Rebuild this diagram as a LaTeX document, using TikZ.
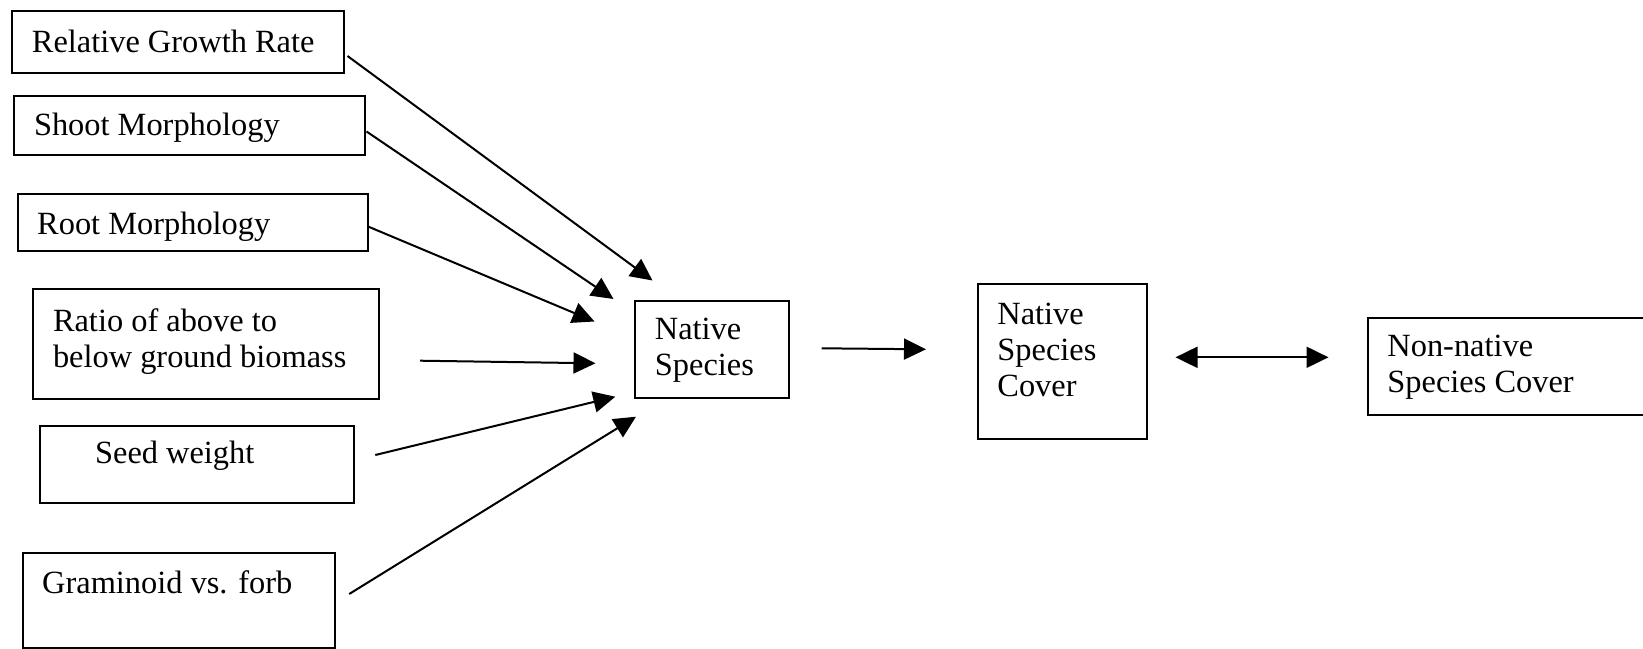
\documentclass[tikz,border=0pt]{standalone}
\usepackage{fontspec}
\setmainfont{Liberation Serif}
\usetikzlibrary{arrows.meta,calc}
\begin{document}
\begin{tikzpicture}[x=0.5pt,y=-0.5pt,
  box/.style={draw,line width=1pt,rectangle,inner sep=0pt,anchor=north west},
  txt/.style={inner sep=0pt,anchor=base west,align=left,font=\fontsize{16.2}{18}\selectfont},
  tip/.style={Triangle[length=11pt,width=10.5pt]},
  arr/.style={line width=1pt,-{Triangle[length=11pt,width=10.5pt]}},
  darr/.style={line width=1pt,{Triangle[length=11pt,width=10.5pt]}-{Triangle[length=11pt,width=10.5pt]}}]
\useasboundingbox (0,0) rectangle (1643,648);
% boxes
\node[box,minimum width=166.25pt,minimum height=31pt] (rgr) at (10.5,10) {};
\node[box,minimum width=175.7pt,minimum height=29.5pt] (shoot) at (12.6,95) {};
\node[box,minimum width=175.1pt,minimum height=28.65pt] (root) at (16.8,192.7) {};
\node[box,minimum width=172.95pt,minimum height=55pt] (ratio) at (31.6,288) {};
\node[box,minimum width=157pt,minimum height=38.35pt] (seed) at (38.7,425) {};
\node[box,minimum width=156.1pt,minimum height=47.5pt] (gram) at (21.8,552) {};
\node[box,minimum width=77.4pt,minimum height=48.6pt] (nat) at (633.5,299.5) {};
\node[box,minimum width=84.3pt,minimum height=77.5pt] (cover) at (977,283) {};
\node[box,minimum width=150pt,minimum height=48.5pt] (non) at (1366.5,317) {};
% texts (base = baseline of the last line)
\node[txt] (rgrt) at ($(rgr.north west)+(21,42.5)$) {Relative Growth Rate};
\node[txt] (shoott) at ($(shoot.north west)+(21,40)$) {Shoot Morphology};
\node[txt] (roott) at ($(root.north west)+(20,41.5)$) {Root Morphology};
\node[txt] (ratiot) at ($(ratio.north west)+(21,79)$) {Ratio of above to\\below ground biomass};
\node[txt] (seedt) at ($(seed.north west)+(56,38)$) {Seed weight};
\node[txt] (gramt) at ($(gram.north west)+(20,41)$) {Graminoid vs. forb};
\node[txt] (natt) at ($(nat.north west)+(21,75.5)$) {Native\\Species};
\node[txt] (covert) at ($(cover.north west)+(20,113.5)$) {Native\\Species\\Cover};
\node[txt] (nont) at ($(non.north west)+(20.5,75)$) {Non-native\\Species Cover};
% connectors
\draw[arr] ($(rgr.north east)+(2.5,46)$) -- ($(nat.north west)+(19,-19)$);
\draw[arr] ($(shoot.north east)+(0.5,36.5)$) -- ($(nat.north west)+(-20,-0.5)$);
\draw[arr] ($(root.north east)+(-1,33.8)$) -- ($(nat.north west)+(-39,22)$);
\draw[arr] ($(ratio.north east)+(40.5,72.7)$) -- ($(nat.north west)+(-38,63.8)$);
\draw[arr] ($(seed.north east)+(20.6,30)$) -- ($(nat.north west)+(-18.2,97.2)$);
\draw[arr] ($(gram.north east)+(13.2,42)$) -- ($(nat.north west)+(2.5,117.2)$);
\draw[arr] ($(nat.north east)+(31.3,48.8)$) -- ($(cover.north west)+(-51,66.3)$);
\draw[darr] ($(cover.north east)+(27.9,74.3)$) -- ($(non.north west)+(-38,40.3)$);
\end{tikzpicture}
\end{document}
